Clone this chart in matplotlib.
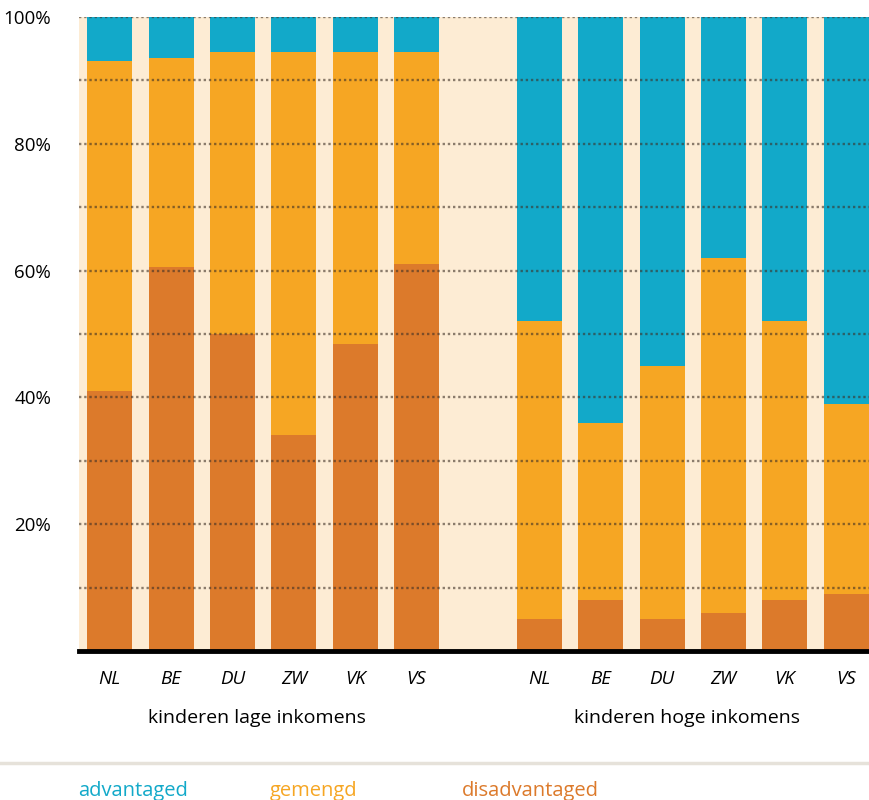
import numpy as np
import matplotlib.pyplot as plt

plt.rcParams['font.family'] = ['Open Sans', 'DejaVu Sans']

# data (percent)
countries = ['NL', 'BE', 'DU', 'ZW', 'VK', 'VS']
groups = ['kinderen lage inkomens', 'kinderen hoge inkomens']

low_disadv = [41, 60.5, 50, 34, 48.5, 61]
low_top = [93, 93.5, 94.5, 94.5, 94.5, 94.5]   # disadvantaged + gemengd
high_disadv = [5, 8, 5, 6, 8, 9]
high_top = [52, 36, 45, 62, 52, 39]

c_adv = '#12a9c9'
c_gem = '#f6a623'
c_dis = '#dc7a2b'
bg = '#fdecd4'

disadv = np.array(low_disadv + high_disadv)
top = np.array(low_top + high_top)
gemengd = top - disadv
advantaged = 100 - top
x = np.r_[np.arange(6), np.arange(7, 13)]

fig = plt.figure(figsize=(8.69, 8), dpi=100)
ax = fig.add_axes([79 / 869, 149 / 800, 1 - 79 / 869, 634 / 800])
ax.set_facecolor(bg)

w = 0.733
ax.bar(x, disadv, w, color=c_dis, zorder=2)
ax.bar(x, gemengd, w, bottom=disadv, color=c_gem, zorder=2)
ax.bar(x, advantaged, w, bottom=top, color=c_adv, zorder=2)

# dotted grid on top of bars
for yv in range(10, 101, 10):
    ax.axhline(yv, color='#3e3026', alpha=0.6, lw=1.7,
               linestyle=(0, (1, 1.2)), zorder=3)

ax.set_xlim(-0.5, 12.37)
ax.set_ylim(0, 100)
ax.set_yticks([20, 40, 60, 80, 100])
ax.set_yticklabels([f'{v}%' for v in [20, 40, 60, 80, 100]], fontsize=13.5)
ax.set_xticks(x)
ax.set_xticklabels(countries * 2, fontsize=13.5, style='italic')
ax.tick_params(length=0, pad=14)
ax.tick_params(axis='y', pad=20)

for s in ['top', 'right', 'left']:
    ax.spines[s].set_visible(False)
ax.spines['bottom'].set_linewidth(3.5)
ax.spines['bottom'].set_color('black')
ax.spines['bottom'].set_zorder(4)

# group labels
for gx, label in zip([2.4, 9.4], groups):
    ax.text(gx, -10.5, label, ha='center', va='center', fontsize=14)

# separator and legend
fig.add_artist(plt.Line2D([0, 1], [1 - 763 / 800, 1 - 763 / 800],
                          color='#e6e2da', lw=2.5))
for lx, label, col in [(78, 'advantaged', c_adv), (270, 'gemengd', c_gem),
                       (462, 'disadvantaged', c_dis)]:
    fig.text(lx / 869, 1 - 791 / 800, label, color=col, fontsize=14.5,
             ha='left', va='center')

fig.savefig('out.png', dpi=100)
